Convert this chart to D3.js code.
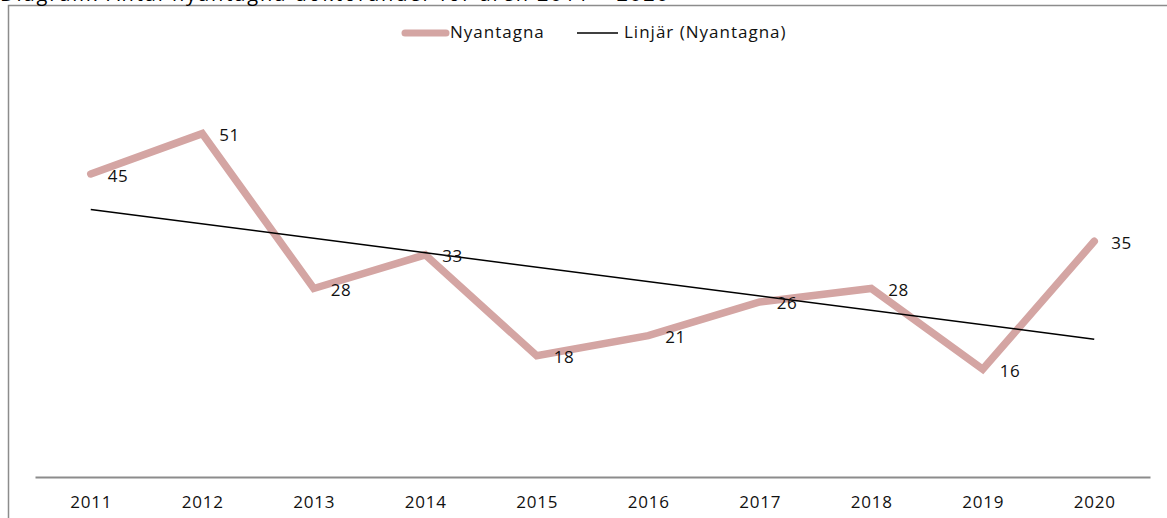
<!DOCTYPE html>
<html>
<head>
<meta charset="utf-8">
<script src="https://cdn.jsdelivr.net/npm/d3@7"></script>
<style>
  body { margin: 0; background: #fff; }
  svg { display: block; font-family: "Open Sans", "Liberation Sans", sans-serif; }
</style>
</head>
<body>
<div></div>
<script>
var width = 1167;
var height = 518;

var years = ["2011", "2012", "2013", "2014", "2015", "2016", "2017", "2018", "2019", "2020"];
var nyantagna = [45, 51, 28, 33, 18, 21, 26, 28, 16, 35];
var legendLabels = ["Nyantagna", "Linjär (Nyantagna)"];
var title = "Diagram: Antal nyantagna doktorander för åren 2011 – 2020";

var svg = d3.select("div")
	.append("svg")
	.attr("width", width)
	.attr("height", height);

// chart frame (cut off at right and bottom)
svg.append("path")
	.attr("d", "M8.5," + height + "V5.5H" + width)
	.attr("fill", "none")
	.attr("stroke", "#8c8c8c")
	.attr("stroke-width", 1.5);

svg.append("text")
	.attr("x", 0)
	.attr("y", 1)
	.attr("font-size", 20)
	.attr("textLength", 668)
	.attr("lengthAdjust", "spacing")
	.attr("fill", "#000")
	.text(title);

var x = d3.scalePoint()
	.domain(years)
	.range([35, 1150])
	.padding(0.5);

var y = d3.scaleLinear()
	.domain([0, 60])
	.range([477, 73]);

// x axis
var xAxis = svg.append("g")
	.attr("transform", "translate(0,477)")
	.call(d3.axisBottom(x).tickSize(0).tickPadding(19));
xAxis.select(".domain").attr("stroke", "#8c8c8c").attr("stroke-width", 2);
xAxis.selectAll("text")
	.attr("font-size", 17)
	.attr("letter-spacing", 0.8)
	.attr("font-family", "Open Sans, sans-serif")
	.attr("fill", "#111");

var data = years.map((yr, i) => ({ year: yr, value: nyantagna[i] }));

// linear trend (least squares)
var n = data.length;
var mx = d3.mean(data, (d, i) => i + 1);
var my = d3.mean(data, d => d.value);
var sxy = d3.sum(data, (d, i) => (i + 1 - mx) * (d.value - my));
var sxx = d3.sum(data, (d, i) => (i + 1 - mx) * (i + 1 - mx));
var slope = sxy / sxx;
var trend = data.map((d, i) => ({ year: d.year, value: my + slope * (i + 1 - mx) }));

var line = d3.line()
	.x(d => x(d.year))
	.y(d => y(d.value));

svg.append("path")
	.datum(data)
	.attr("d", line)
	.attr("fill", "none")
	.attr("stroke", "#d4a5a3")
	.attr("stroke-width", 7.5)
	.attr("stroke-linejoin", "miter")
	.attr("stroke-linecap", "round");

svg.append("path")
	.datum([trend[0], trend[n - 1]])
	.attr("d", line)
	.attr("fill", "none")
	.attr("stroke", "#000")
	.attr("stroke-width", 1.5);

svg.append("g")
	.selectAll("text")
	.data(data)
	.enter()
	.append("text")
	.attr("x", d => x(d.year) + 17)
	.attr("y", d => y(d.value) + 3)
	.attr("dominant-baseline", "middle")
	.attr("font-size", 17)
	.attr("letter-spacing", 0.5)
	.attr("fill", "#111")
	.text(d => d.value);

// legend
var legend = svg.append("g");
legend.append("line")
	.attr("x1", 405).attr("x2", 446)
	.attr("y1", 33).attr("y2", 33)
	.attr("stroke", "#d4a5a3")
	.attr("stroke-width", 7)
	.attr("stroke-linecap", "round");
legend.append("text")
	.attr("x", 450).attr("y", 33)
	.attr("dominant-baseline", "middle")
	.attr("font-size", 17)
	.attr("letter-spacing", 1)
	.attr("fill", "#111")
	.text(legendLabels[0]);
legend.append("line")
	.attr("x1", 577).attr("x2", 618)
	.attr("y1", 33).attr("y2", 33)
	.attr("stroke", "#000")
	.attr("stroke-width", 1.5);
legend.append("text")
	.attr("x", 624).attr("y", 33)
	.attr("dominant-baseline", "middle")
	.attr("font-size", 17)
	.attr("letter-spacing", 1)
	.attr("fill", "#111")
	.text(legendLabels[1]);
</script>
</body>
</html>
